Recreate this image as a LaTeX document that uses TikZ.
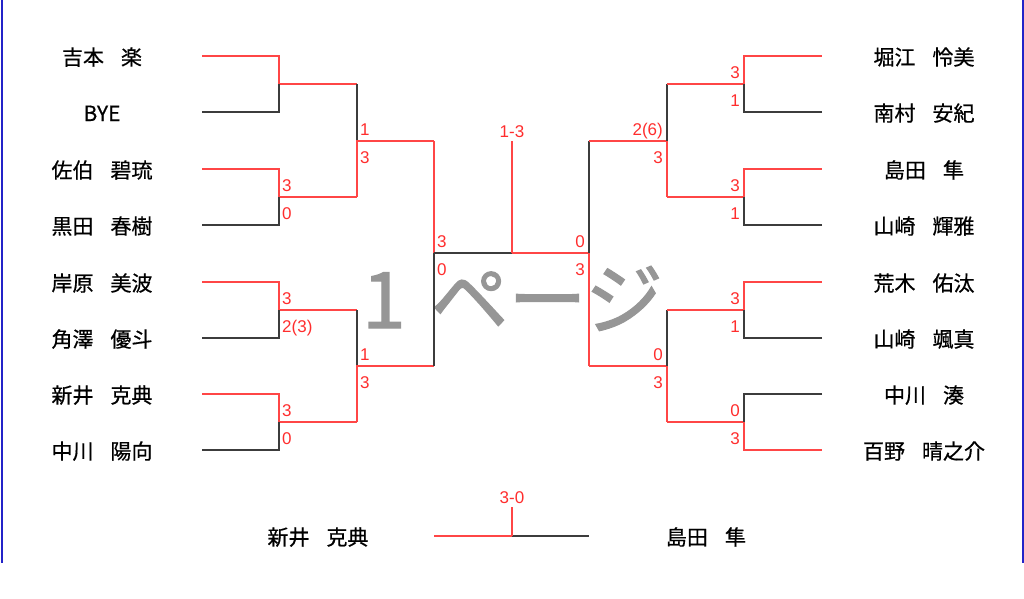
\documentclass[tikz,border=0pt]{standalone}
\usepackage{fontspec}
\setmainfont{Liberation Sans}
\newfontfamily\jp[FakeBold=0.6]{Noto Sans CJK JP}
\newfontfamily\jpwm[FakeBold=1.5]{Noto Sans CJK JP}
\newcommand\nsp{\hspace{17pt}}
\definecolor{winred}{RGB}{255,70,70}
\definecolor{scorered}{RGB}{255,45,45}
\definecolor{losegray}{RGB}{60,60,60}
\definecolor{frameblue}{RGB}{35,35,200}
\definecolor{wmgray}{RGB}{150,150,150}
\tikzset{
  win/.style={draw=winred, line width=1.1pt},
  lose/.style={draw=losegray, line width=1.1pt},
  pname/.style={font=\jp\fontsize{21}{21}\selectfont, inner sep=0pt, anchor=base},
  sc/.style={font=\fontsize{17}{17}\selectfont, text=scorered, inner sep=0pt},
  scAL/.style={sc, anchor=base west, xshift=3pt, yshift=6pt},
  scBL/.style={sc, anchor=base west, xshift=3pt, yshift=-22pt},
  scAR/.style={sc, anchor=base east, xshift=-4pt, yshift=6pt},
  scBR/.style={sc, anchor=base east, xshift=-4pt, yshift=-22pt},
  wmark/.style={font=\jpwm\fontsize{78}{78}\selectfont, text=wmgray, inner sep=0pt, anchor=base west},
  frame/.style={draw=frameblue, line width=2pt}
}
\begin{document}
\begin{tikzpicture}[x=1pt,y=-1pt]
\useasboundingbox (0,0) rectangle (1024,598);
% watermark
\node[wmark] (wm) at (362,328) {1\hspace{25pt}ページ};
% frame lines
\coordinate (FLt) at (1.5,0); \coordinate (FLb) at (1.5,563);
\coordinate (FRt) at (1022.5,0); \coordinate (FRb) at (1022.5,563);
\draw[frame] (FLt) -- (FLb);
\draw[frame] (FRt) -- (FRb);
% coordinates
\foreach \i/\y in {1/56,2/112,3/169,4/225,5/282,6/338,7/394,8/450}{
  \coordinate (LA\i) at (202,\y); \coordinate (LB\i) at (279,\y);
  \coordinate (RA\i) at (822,\y); \coordinate (RB\i) at (744,\y);
}
\foreach \i/\y in {1/84,2/197,3/310,4/422}{
  \coordinate (LJ\i) at (279,\y); \coordinate (LK\i) at (357,\y);
  \coordinate (RJ\i) at (744,\y); \coordinate (RK\i) at (667,\y);
}
\foreach \i/\y in {1/141,2/366}{
  \coordinate (LM\i) at (357,\y); \coordinate (LN\i) at (434,\y);
  \coordinate (RM\i) at (667,\y); \coordinate (RN\i) at (589,\y);
}
\coordinate (LF) at (434,253); \coordinate (C) at (512,253);
\coordinate (RF) at (589,253); \coordinate (CT) at (512,141);
\coordinate (BL) at (434,536); \coordinate (BC) at (512,536);
\coordinate (BR) at (589,536); \coordinate (BT) at (512,507);
% left bracket
\draw[win] (LA1) -- (LB1) -- (LJ1) -- (LK1);
\draw[lose] (LA2) -- (LB2) -- (LJ1);
\draw[win] (LA3) -- (LB3) -- (LJ2) -- (LK2);
\draw[lose] (LA4) -- (LB4) -- (LJ2);
\draw[win] (LA5) -- (LB5) -- (LJ3) -- (LK3);
\draw[lose] (LA6) -- (LB6) -- (LJ3);
\draw[win] (LA7) -- (LB7) -- (LJ4) -- (LK4);
\draw[lose] (LA8) -- (LB8) -- (LJ4);
\draw[lose] (LK1) -- (LM1);
\draw[win] (LK2) -- (LM1) -- (LN1);
\draw[lose] (LK3) -- (LM2);
\draw[win] (LK4) -- (LM2) -- (LN2);
\draw[win] (LN1) -- (LF);
\draw[lose] (LF) -- (LN2);
% centre
\draw[lose] (LF) -- (C);
\draw[win] (C) -- (RF);
\draw[win] (C) -- (CT);
% right bracket
\draw[lose] (RF) -- (RN1);
\draw[win] (RF) -- (RN2);
\draw[win] (RN1) -- (RM1) -- (RK2);
\draw[lose] (RM1) -- (RK1);
\draw[win] (RN2) -- (RM2) -- (RK4);
\draw[lose] (RM2) -- (RK3);
\draw[win] (RK1) -- (RJ1) -- (RB1) -- (RA1);
\draw[lose] (RA2) -- (RB2) -- (RJ1);
\draw[win] (RK2) -- (RJ2) -- (RB3) -- (RA3);
\draw[lose] (RA4) -- (RB4) -- (RJ2);
\draw[win] (RK3) -- (RJ3) -- (RB5) -- (RA5);
\draw[lose] (RA6) -- (RB6) -- (RJ3);
\draw[win] (RK4) -- (RJ4) -- (RB8) -- (RA8);
\draw[lose] (RA7) -- (RB7) -- (RJ4);
% bottom match
\draw[win] (BL) -- (BC);
\draw[lose] (BC) -- (BR);
\draw[win] (BC) -- (BT);
% names
\foreach \i/\y/\t in {1/56/吉本\nsp 楽,2/112/BYE,3/169/佐伯\nsp 碧琉,4/225/黒田\nsp 春樹,5/282/岸原\nsp 美波,6/338/角澤\nsp 優斗,7/394/新井\nsp 克典,8/450/中川\nsp 陽向}{
  \node[pname] (nL\i) at (102,\y+9) {\t};
}
\foreach \i/\y/\t in {1/56/堀江\nsp 怜美,2/112/南村\nsp 安紀,3/169/島田\nsp 隼,4/225/山崎\nsp 輝雅,5/282/荒木\nsp 佑汰,6/338/山崎\nsp 颯真,7/394/中川\nsp 湊,8/450/百野\nsp 晴之介}{
  \node[pname] (nR\i) at (924,\y+9) {\t};
}
\node[pname] (nBL) at (318,545) {新井\nsp 克典};
\node[pname] (nBR) at (706,545) {島田\nsp 隼};
% scores left
\node[scAL] (sLJ2a) at (LJ2) {3};  \node[scBL] (sLJ2b) at (LJ2) {0};
\node[scAL] (sLJ3a) at (LJ3) {3};  \node[scBL] (sLJ3b) at (LJ3) {2(3)};
\node[scAL] (sLJ4a) at (LJ4) {3};  \node[scBL] (sLJ4b) at (LJ4) {0};
\node[scAL] (sLM1a) at (LM1) {1};  \node[scBL] (sLM1b) at (LM1) {3};
\node[scAL] (sLM2a) at (LM2) {1};  \node[scBL] (sLM2b) at (LM2) {3};
\node[scAL] (sLFa) at (LF) {3};    \node[scBL] (sLFb) at (LF) {0};
% scores right
\node[scAR] (sRFa) at (RF) {0};    \node[scBR] (sRFb) at (RF) {3};
\node[scAR] (sRM1a) at (RM1) {2(6)}; \node[scBR] (sRM1b) at (RM1) {3};
\node[scAR] (sRM2a) at (RM2) {0};  \node[scBR] (sRM2b) at (RM2) {3};
\node[scAR] (sRJ1a) at (RJ1) {3};  \node[scBR] (sRJ1b) at (RJ1) {1};
\node[scAR] (sRJ2a) at (RJ2) {3};  \node[scBR] (sRJ2b) at (RJ2) {1};
\node[scAR] (sRJ3a) at (RJ3) {3};  \node[scBR] (sRJ3b) at (RJ3) {1};
\node[scAR] (sRJ4a) at (RJ4) {0};  \node[scBR] (sRJ4b) at (RJ4) {3};
% match results
\node[sc, anchor=base] (res1) at (512,137) {1-3};
\node[sc, anchor=base] (res2) at (512,503) {3-0};
\end{tikzpicture}
\end{document}
